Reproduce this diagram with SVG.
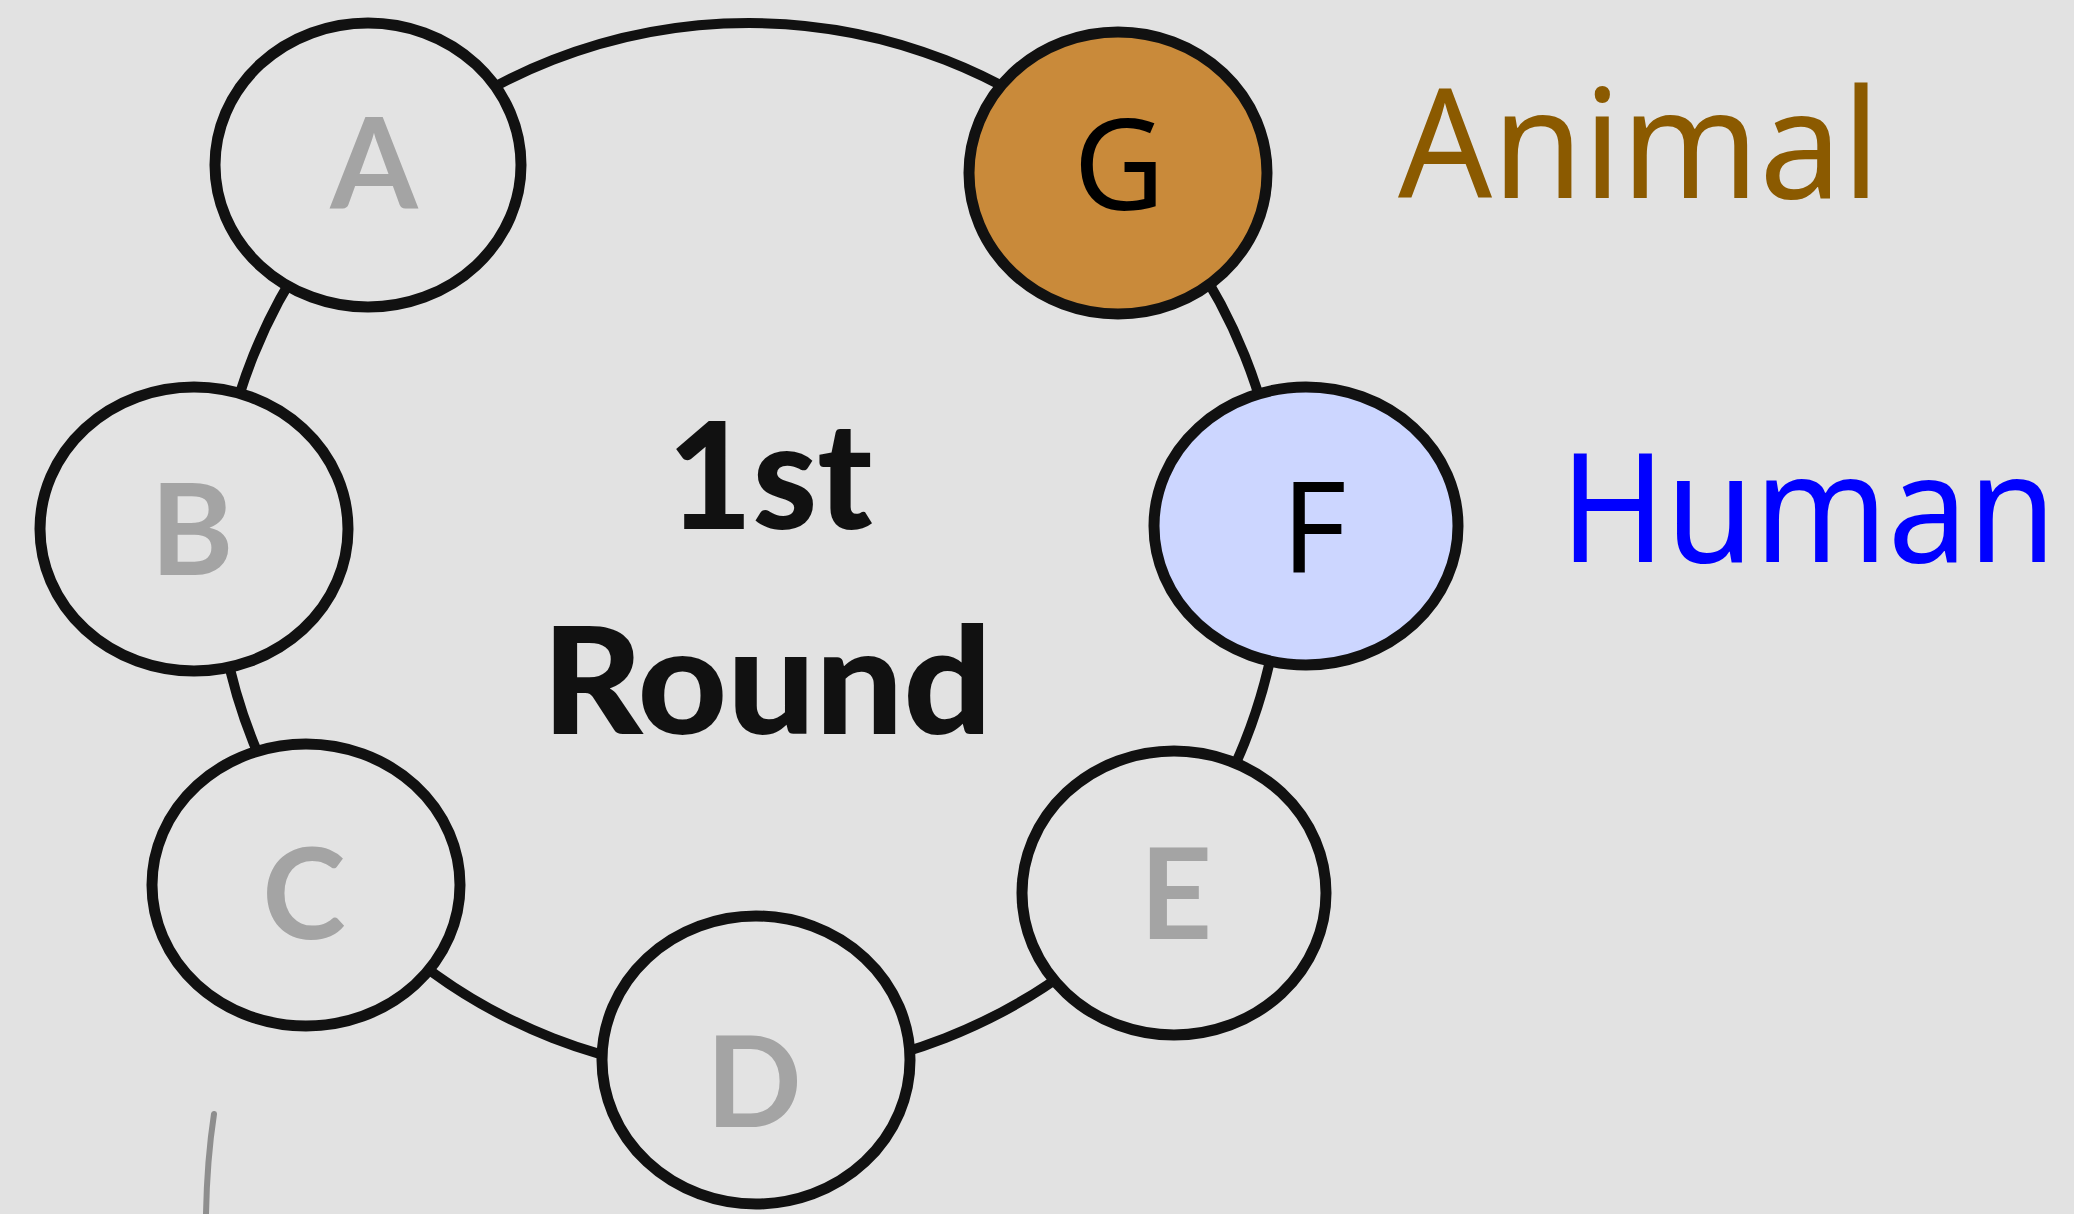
<svg xmlns="http://www.w3.org/2000/svg" width="2074" height="1214" viewBox="0 0 2074 1214">
  <style>
    .node { stroke: #111; stroke-width: 11; fill: #e3e3e3; }
    .ring { fill: none; stroke: #111; stroke-width: 10; }
    .dim { font-family: Lato, "Open Sans", sans-serif; font-weight: 700; font-size: 126px; fill: #a4a4a4; text-anchor: middle; }
    .dark { font-family: "Noto Sans", "Open Sans", sans-serif; font-size: 126px; fill: #000; text-anchor: middle; }
    .title { font-family: Lato, "Open Sans", sans-serif; font-weight: 900; font-size: 148px; fill: #111; text-anchor: middle; }
    .tag { font-family: "Noto Sans", "Open Sans", sans-serif; font-size: 152px; }
  </style>

  <rect width="2074" height="1214" fill="#e2e2e2"/>

  <!-- ring joining the seats -->
  <g id="connectors">
    <ellipse class="ring" cx="749" cy="549" rx="533" ry="526"/>
  </g>

  <!-- centre caption -->
  <g id="caption">
    <text class="title" x="770" y="529" textLength="205" lengthAdjust="spacingAndGlyphs">1st</text>
    <text class="title" x="767" y="734" textLength="450" lengthAdjust="spacingAndGlyphs">Round</text>
  </g>

  <g id="node-A">
    <ellipse class="node" cx="368" cy="165" rx="153" ry="142"/>
    <text class="dim" x="374" y="209">A</text>
  </g>
  <g id="node-B">
    <ellipse class="node" cx="194" cy="529" rx="154" ry="142"/>
    <text class="dim" x="192" y="575">B</text>
  </g>
  <g id="node-C">
    <ellipse class="node" cx="306" cy="885" rx="154" ry="141"/>
    <text class="dim" x="304" y="939">C</text>
  </g>
  <g id="node-D">
    <ellipse class="node" cx="756" cy="1060" rx="154" ry="144"/>
    <text class="dim" x="754" y="1127">D</text>
  </g>
  <g id="node-E">
    <ellipse class="node" cx="1174" cy="893" rx="152" ry="142"/>
    <text class="dim" x="1176" y="939">E</text>
  </g>
  <g id="node-F">
    <ellipse class="node" cx="1306" cy="526" rx="152" ry="139" style="fill:#ccd6ff"/>
    <text class="dark" x="1314" y="572">F</text>
  </g>
  <g id="node-G">
    <ellipse class="node" cx="1118" cy="173" rx="149" ry="141" style="fill:#c98a3a"/>
    <text class="dark" x="1119" y="210">G</text>
  </g>

  <!-- side labels, set slightly condensed -->
  <g id="label-animal">
    <text class="tag" transform="translate(1398,198) scale(0.97,1)" fill="#8b5a00">Animal</text>
  </g>
  <g id="label-human">
    <text class="tag" transform="translate(1560,562) scale(0.94,1)" fill="#0000ff">Human</text>
  </g>

  <!-- faint pencil stroke -->
  <path d="M214 1114 Q207 1160 206 1214" fill="none" stroke="#8e8e8e" stroke-width="6" stroke-linecap="round"/>
</svg>
